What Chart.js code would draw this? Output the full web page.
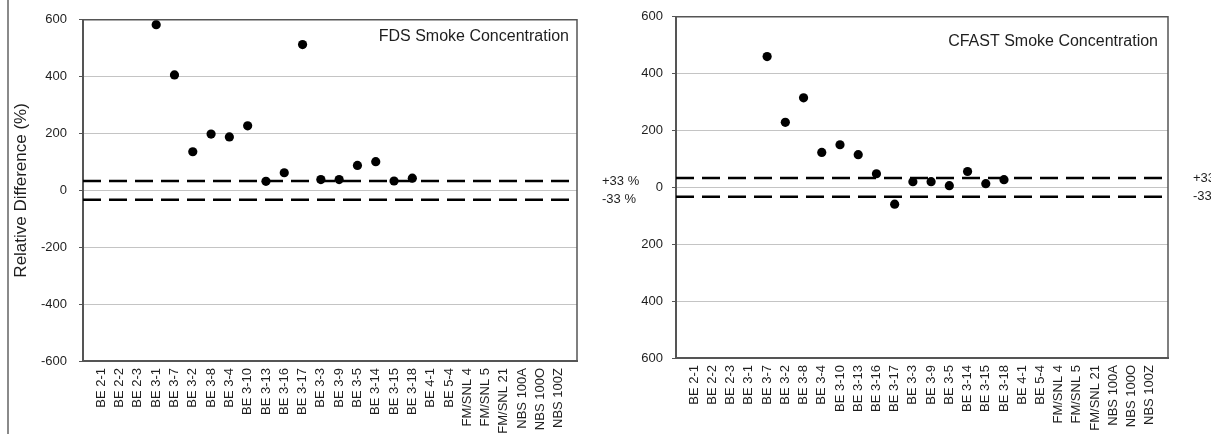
<!DOCTYPE html>
<html>
<head>
<meta charset="utf-8">
<script src="https://cdn.jsdelivr.net/npm/chart.js@4/dist/chart.umd.min.js"></script>
<style>
  body { margin: 0; background: #fff; }
  #wrap { position: relative; width: 1211px; height: 434px; overflow: hidden; }
  #frame { position: absolute; left: 7px; top: 0; height: 434px; border-left: 2px solid #8a8a8a; }
  canvas { position: absolute; top: 0; }
  #fds { left: 0; }
  #cfast { left: 600px; }
</style>
</head>
<body>
<div id="wrap">
  <div id="frame"></div>
  <canvas id="fds" width="660" height="434"></canvas>
  <canvas id="cfast" width="611" height="434"></canvas>
</div>
<script>
const caseNames = ['BE 2-1', 'BE 2-2', 'BE 2-3', 'BE 3-1', 'BE 3-7', 'BE 3-2', 'BE 3-8', 'BE 3-4',
    'BE 3-10', 'BE 3-13', 'BE 3-16', 'BE 3-17', 'BE 3-3', 'BE 3-9', 'BE 3-5', 'BE 3-14',
    'BE 3-15', 'BE 3-18', 'BE 4-1', 'BE 5-4', 'FM/SNL 4', 'FM/SNL 5', 'FM/SNL 21',
    'NBS 100A', 'NBS 100O', 'NBS 100Z'];
const fdsDiff = [null, null, null, 583, 406, 136, 198, 188, 227, 32, 62, 513, 38, 38, 88, 101,
    33, 43, null, null, null, null, null, null, null, null];
const cfastDiff = [null, null, null, null, 460, 229, 315, 123, 150, 115, 48, -59, 20, 20, 6, 56,
    13, 27, null, null, null, null, null, null, null, null];
const yTickValues = [-600, -400, -200, 0, 200, 400, 600];
const fdsTickLabels = ['-600', '-400', '-200', '0', '200', '400', '600'];
const cfastTickLabels = ['600', '400', '200', '0', '200', '400', '600'];
const bandValues = [33, -33];
const bandLabels = ['+33 %', '-33 %'];

const FONT = "'Liberation Sans', Arial, sans-serif";
const TEXT = '#1e1e1e';
const AXIS = '#555';

// top / right frame, title and the +-33 % labels
const decorPlugin = {
    id: 'decor',
    afterDraw(chart, args, opts) {
        const { ctx, chartArea: a, scales } = chart;
        ctx.save();
        ctx.strokeStyle = AXIS;
        ctx.lineWidth = 1.5;
        ctx.beginPath();
        ctx.moveTo(a.left, a.top);
        ctx.lineTo(a.right, a.top);
        ctx.lineTo(a.right, a.bottom);
        ctx.stroke();

        ctx.fillStyle = TEXT;
        ctx.font = '16px ' + FONT;
        ctx.textAlign = 'right';
        ctx.textBaseline = 'middle';
        ctx.fillText(opts.title, a.right - opts.titleDx, a.top + opts.titleDy);

        ctx.font = '13px ' + FONT;
        ctx.textAlign = 'left';
        bandValues.forEach((v, i) => {
            ctx.fillText(bandLabels[i], a.right + 25, scales.y.getPixelForValue(v));
        });
        ctx.restore();
    }
};

function makeChart(id, values, title, tickLabels, sizes) {
    const points = [];
    values.forEach((v, i) => { if (v !== null) points.push({ x: i, y: v }); });

    const datasets = [{
        data: points,
        backgroundColor: '#000',
        borderWidth: 0,
        pointRadius: 4.6,
        pointHoverRadius: 4.6
    }];
    bandValues.forEach(v => {
        datasets.push({
            data: [{ x: -1, y: v }, { x: caseNames.length, y: v }],
            showLine: true,
            borderColor: '#000',
            borderWidth: 2.6,
            borderDash: [18, 8],
            pointRadius: 0
        });
    });

    return new Chart(document.getElementById(id), {
        type: 'scatter',
        data: { datasets: datasets },
        plugins: [decorPlugin],
        options: {
            responsive: false,
            animation: false,
            events: [],
            layout: { padding: { left: 0, top: sizes.top, right: sizes.right, bottom: 0 } },
            plugins: {
                legend: { display: false },
                tooltip: { enabled: false },
                decor: { title: title, titleDx: sizes.titleDx, titleDy: sizes.titleDy }
            },
            scales: {
                x: {
                    type: 'linear',
                    min: -1,
                    max: caseNames.length,
                    afterFit: s => { s.height = sizes.xHeight; },
                    afterBuildTicks: s => { s.ticks = caseNames.map((n, i) => ({ value: i })); },
                    grid: { display: false, drawTicks: false },
                    border: { color: AXIS, width: 2 },
                    ticks: {
                        autoSkip: false,
                        minRotation: 90,
                        maxRotation: 90,
                        padding: 7,
                        color: TEXT,
                        font: { family: FONT, size: 13 },
                        callback: v => caseNames[v]
                    }
                },
                y: {
                    min: -600,
                    max: 600,
                    afterFit: s => { s.width = sizes.yWidth; },
                    afterBuildTicks: s => { s.ticks = yTickValues.map(v => ({ value: v })); },
                    grid: { color: '#c4c4c4', lineWidth: 1, tickColor: AXIS, tickLength: 4 },
                    border: { color: AXIS, width: 2 },
                    ticks: {
                        padding: sizes.tickPad,
                        color: TEXT,
                        font: { family: FONT, size: 13 },
                        callback: (v, i) => tickLabels[i]
                    },
                    title: {
                        display: sizes.yTitle !== '',
                        text: sizes.yTitle,
                        color: TEXT,
                        font: { family: FONT, size: 17 },
                        padding: { top: 11, bottom: 0 }
                    }
                }
            }
        }
    });
}

makeChart('fds', fdsDiff, 'FDS Smoke Concentration', fdsTickLabels,
    { top: 16, right: 83, xHeight: 73, yWidth: 83, tickPad: 12, titleDx: 8, titleDy: 17,
      yTitle: 'Relative Difference (%)' });
makeChart('cfast', cfastDiff, 'CFAST Smoke Concentration', cfastTickLabels,
    { top: 15, right: 43, xHeight: 76, yWidth: 76, tickPad: 9, titleDx: 10, titleDy: 25,
      yTitle: '' });
</script>
</body>
</html>
